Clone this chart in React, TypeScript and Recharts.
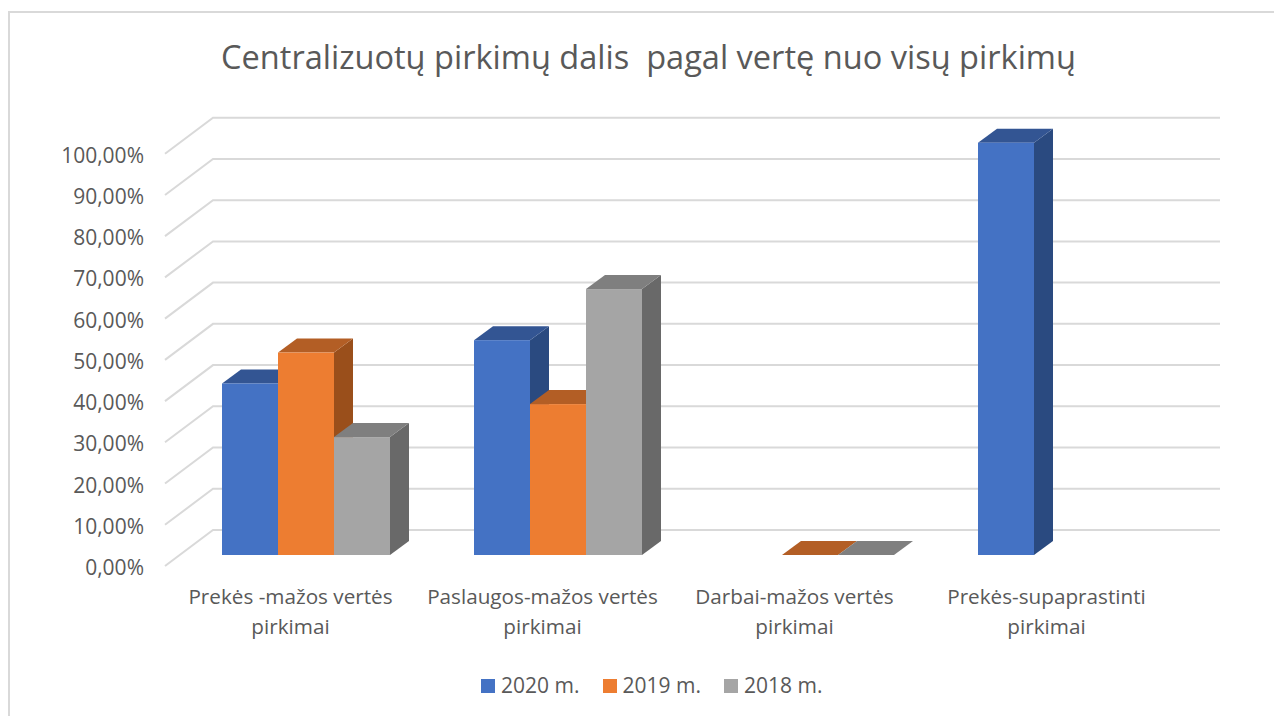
import React from 'react';
import { BarChart, Bar, XAxis, YAxis, CartesianGrid, Legend } from 'recharts';

const categories = [
  'Prekės -mažos vertės pirkimai',
  'Paslaugos-mažos vertės pirkimai',
  'Darbai-mažos vertės pirkimai',
  'Prekės-supaprastinti pirkimai',
];
const series2020: (number | null)[] = [41.6, 52.1, null, 100];
const series2019: (number | null)[] = [49.1, 36.6, 0, null];
const series2018: (number | null)[] = [28.6, 64.5, 0, null];
const yTicks = [0, 10, 20, 30, 40, 50, 60, 70, 80, 90, 100];
const title = 'Centralizuotų pirkimų dalis  pagal vertę nuo visų pirkimų';

const data = categories.map((name, i) => ({
  name,
  y2020: series2020[i],
  y2019: series2019[i],
  y2018: series2018[i],
}));

const FONT = '"Open Sans", sans-serif';
const TEXT = '#595959';
const DX = 19;
const DY = 14;

const makeShape = (front: string, top: string, side: string) => (p: any) => {
  const { x, y, width, height, value } = p;
  const v = Array.isArray(value) ? value[1] : value;
  if (v == null || !isFinite(y) || !isFinite(height)) return <g />;
  const r = x + width;
  const b = y + height;
  return (
    <g>
      {height > 0 && (
        <polygon points={`${r},${y} ${r + DX},${y - DY} ${r + DX},${b - DY} ${r},${b}`} fill={side} />
      )}
      <polygon points={`${x},${y} ${x + DX},${y - DY} ${r + DX},${y - DY} ${r},${y}`} fill={top} />
      {height > 0 && <rect x={x} y={y} width={width} height={height} fill={front} />}
    </g>
  );
};

const gridLine = (p: any) => {
  const { x1, x2, y1 } = p;
  return (
    <polyline
      key={`g-${y1}`}
      points={`${x1 - 15},${y1 + 11} ${x1 + 33},${y1 - 25} ${x2 + 32},${y1 - 25}`}
      fill="none"
      stroke="#D9D9D9"
      strokeWidth={2}
    />
  );
};

const yTick = (p: any) => (
  <text x={144} y={p.y + 20} textAnchor="end" fontFamily={FONT} fontSize={21} fill={TEXT}>
    {p.payload.value.toFixed(2).replace('.', ',') + '%'}
  </text>
);

const xTick = (p: any) => {
  const s: string = p.payload.value;
  const k = s.lastIndexOf(' ');
  return (
    <text x={p.x - 15.5} textAnchor="middle" fontFamily={FONT} fontSize={20.7} fill={TEXT}>
      <tspan x={p.x - 15.5} y={604}>{s.slice(0, k)}</tspan>
      <tspan x={p.x - 15.5} y={634}>{s.slice(k + 1)}</tspan>
    </text>
  );
};

const legendContent = (p: any) => (
  <div style={{ position: 'relative', height: 30, fontFamily: FONT, fontSize: 21, color: TEXT }}>
    {p.payload.map((e: any, i: number) => (
      <div key={e.value} style={{ position: 'absolute', left: i * 121.5, top: 0, whiteSpace: 'nowrap', lineHeight: '30px' }}>
        <span style={{ display: 'inline-block', width: 14, height: 14, background: e.color, marginRight: 6 }} />
        {e.value}
      </div>
    ))}
  </div>
);

export default function App() {
  return (
    <div style={{ position: 'absolute', left: 0, top: 0, width: 1274, height: 716, background: '#fff', overflow: 'hidden' }}>
      <BarChart
        width={1274}
        height={716}
        data={data}
        barSize={56}
        barGap={0}
        margin={{ top: 142.7, right: 86, bottom: 51, left: 80 }}
      >
        <rect x={9} y={12} width={1300} height={760} fill="none" stroke="#D9D9D9" strokeWidth={2} />
        <text x={648.5} y={69} textAnchor="middle" fontFamily={FONT} fontSize={32.55} fill={TEXT} style={{ whiteSpace: 'pre' }}>
          {title}
        </text>
        <CartesianGrid vertical={false} horizontal={gridLine} />
        <XAxis dataKey="name" height={80} axisLine={false} tickLine={false} tick={xTick} interval={0} />
        <YAxis width={100} domain={[0, 100]} ticks={yTicks} axisLine={false} tickLine={false} tick={yTick} />
        <Legend
          content={legendContent}
          itemSorter={null}
          wrapperStyle={{ position: 'absolute', left: 481, top: 670, width: 400, height: 30, bottom: 'auto' }}
        />
        <Bar dataKey="y2020" name="2020 m." fill="#4472C4" isAnimationActive={false} shape={makeShape('#4472C4', '#335593', '#2A4A80')} />
        <Bar dataKey="y2019" name="2019 m." fill="#ED7D31" isAnimationActive={false} shape={makeShape('#ED7D31', '#B35E25', '#9A4F1B')} />
        <Bar dataKey="y2018" name="2018 m." fill="#A5A5A5" isAnimationActive={false} shape={makeShape('#A5A5A5', '#7F7F7F', '#696969')} />
      </BarChart>
    </div>
  );
}
